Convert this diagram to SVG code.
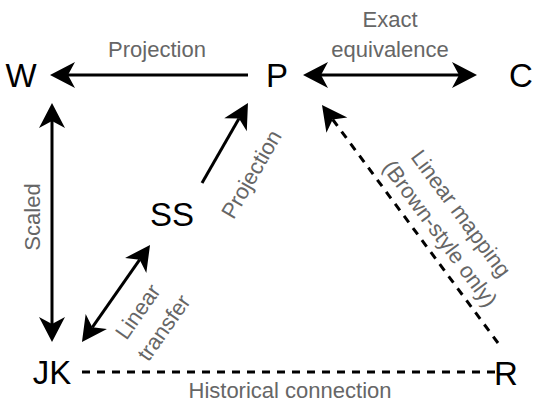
<svg xmlns="http://www.w3.org/2000/svg" width="550" height="407" viewBox="0 0 550 407">
<defs>
<marker id="ah" markerUnits="userSpaceOnUse" markerWidth="40" markerHeight="40" viewBox="-10 -20 40 40" refX="0" refY="0" orient="auto-start-reverse">
<path d="M18,0 L-7,-13 L0,0 L-7,13 Z" fill="#000"/>
</marker>
</defs>
<style>
.node{font-family:"Liberation Sans",Arial,sans-serif;font-size:33px;fill:#000;text-anchor:middle;dominant-baseline:central}
.lbl{font-family:"Liberation Sans",Arial,sans-serif;font-size:22px;fill:#666;text-anchor:middle}
.ln{stroke:#000;stroke-width:3;fill:none}
.dash{stroke-dasharray:8 7}
</style>
<rect width="550" height="407" fill="#fff"/>
<g id="connectors">
<line class="ln" x1="248" y1="75" x2="68" y2="75" marker-end="url(#ah)"/>
<line class="ln" x1="321" y1="75" x2="459" y2="75" marker-start="url(#ah)" marker-end="url(#ah)"/>
<line class="ln" x1="52" y1="121" x2="52" y2="324" marker-start="url(#ah)" marker-end="url(#ah)"/>
<line class="ln" x1="202" y1="183" x2="239" y2="118.6" marker-end="url(#ah)"/>
<line class="ln" x1="92.3" y1="327.3" x2="139.7" y2="259.7" marker-start="url(#ah)" marker-end="url(#ah)"/>
<line class="ln dash" x1="498" y1="343" x2="332.7" y2="119.5" marker-end="url(#ah)"/>
<line class="ln dash" x1="82" y1="372" x2="498" y2="372"/>
</g>
<g id="labels">
<text class="lbl" x="157" y="57">Projection</text>
<text class="lbl" x="390" y="27">Exact</text>
<text class="lbl" x="390" y="57">equivalence</text>
<text class="lbl" transform="translate(40,217) rotate(-90)">Scaled</text>
<text class="lbl" transform="translate(258,178) rotate(-60)">Projection</text>
<text class="lbl" transform="translate(144,316) rotate(-55)">Linear</text>
<text class="lbl" transform="translate(170,332) rotate(-55)">transfer</text>
<text class="lbl" transform="translate(455,218) rotate(53.5)">Linear mapping</text>
<text class="lbl" transform="translate(434,238) rotate(53.5)">(Brown-style only)</text>
<text class="lbl" x="290" y="398">Historical connection</text>
</g>
<g id="node-W"><text class="node" x="21" y="75">W</text></g>
<g id="node-P"><text class="node" x="277" y="75">P</text></g>
<g id="node-C"><text class="node" x="521" y="75">C</text></g>
<g id="node-SS"><text class="node" x="172" y="214">SS</text></g>
<g id="node-JK"><text class="node" x="52" y="372">JK</text></g>
<g id="node-R"><text class="node" x="506" y="373">R</text></g>
</svg>
